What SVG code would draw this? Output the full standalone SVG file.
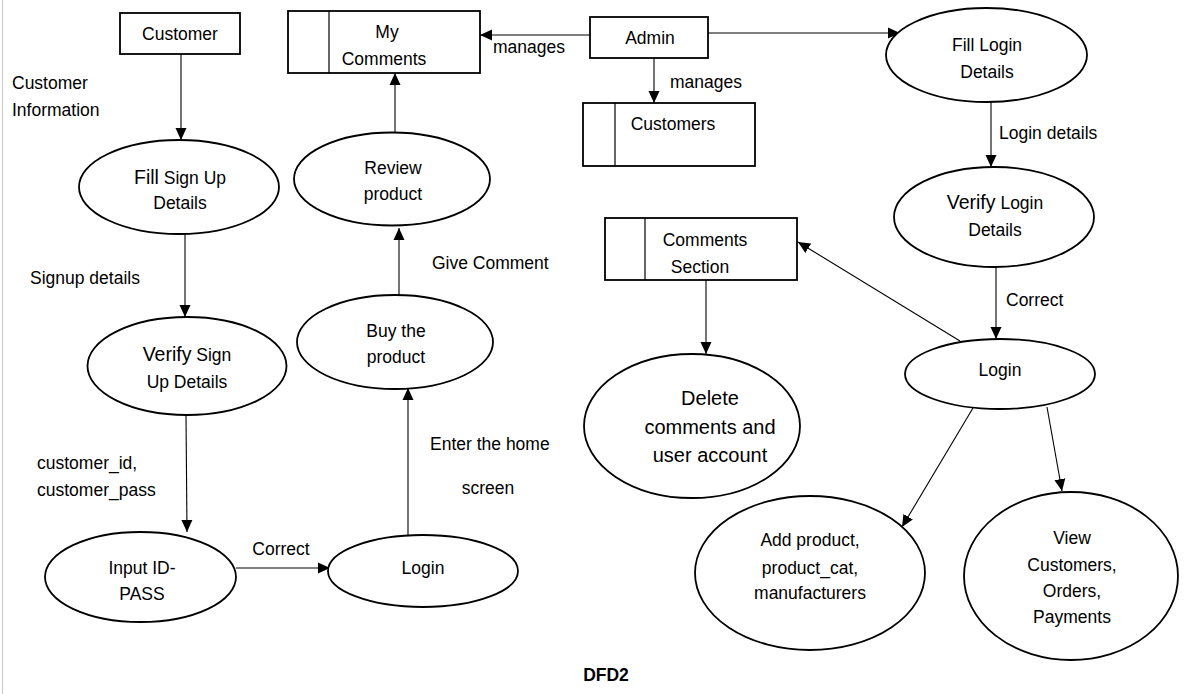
<svg xmlns="http://www.w3.org/2000/svg" width="1185" height="694" viewBox="0 0 1185 694">
<style>
text{font-family:"Liberation Sans",Arial,sans-serif;font-size:17.5px;fill:#000}
.c{text-anchor:middle}
.big{font-size:20px}
.bold{font-weight:bold}
.node rect,.node ellipse{fill:#fff;stroke:#000;stroke-width:1.8}
.node line{stroke:#000;stroke-width:1.2}
#connectors line{stroke:#000;stroke-width:1.1;fill:none}
</style>
<defs>
<marker id="ah" markerUnits="userSpaceOnUse" markerWidth="12" markerHeight="12" viewBox="0 0 12 12" refX="12" refY="6" orient="auto">
<path d="M0,0.5 L12,6 L0,11.5 z" fill="#000"/>
</marker>
</defs>
<rect x="0" y="0" width="1185" height="694" fill="#fff"/>
<line x1="2.5" y1="0" x2="2.5" y2="694" stroke="#c8c8c8" stroke-width="1"/>

<g id="connectors">
<line x1="181" y1="54" x2="181" y2="140" marker-end="url(#ah)"/>
<line x1="185" y1="234" x2="185" y2="317" marker-end="url(#ah)"/>
<line x1="186" y1="415" x2="187" y2="532" marker-end="url(#ah)"/>
<line x1="236" y1="568" x2="330" y2="568" marker-end="url(#ah)"/>
<line x1="408" y1="535" x2="408" y2="388" marker-end="url(#ah)"/>
<line x1="399" y1="295" x2="399" y2="228" marker-end="url(#ah)"/>
<line x1="395" y1="132" x2="395" y2="73" marker-end="url(#ah)"/>
<line x1="590" y1="35" x2="480" y2="35" marker-end="url(#ah)"/>
<line x1="654" y1="58" x2="654" y2="103" marker-end="url(#ah)"/>
<line x1="708" y1="33" x2="900" y2="33" marker-end="url(#ah)"/>
<line x1="991" y1="102" x2="991" y2="167" marker-end="url(#ah)"/>
<line x1="996" y1="267" x2="996" y2="339" marker-end="url(#ah)"/>
<line x1="960" y1="341" x2="798" y2="242" marker-end="url(#ah)"/>
<line x1="706" y1="280" x2="706" y2="354" marker-end="url(#ah)"/>
<line x1="973" y1="408" x2="902" y2="527" marker-end="url(#ah)"/>
<line x1="1047" y1="407" x2="1062" y2="491" marker-end="url(#ah)"/>
</g>

<g id="labels">
<text x="12" y="89">Customer</text>
<text x="12" y="116">Information</text>
<text x="30" y="284">Signup details</text>
<text x="37" y="469">customer_id,</text>
<text x="37" y="496">customer_pass</text>
<text x="281" y="555" class="c">Correct</text>
<text x="430" y="450">Enter the home</text>
<text x="488" y="494" class="c">screen</text>
<text x="432" y="269">Give Comment</text>
<text x="493" y="53">manages</text>
<text x="670" y="88">manages</text>
<text x="999" y="139">Login details</text>
<text x="1006" y="306">Correct</text>
<text x="606" y="681" class="c bold">DFD2</text>
</g>

<g id="customer" class="node">
<rect x="120" y="13" width="120" height="41"/>
<text x="180" y="40" class="c">Customer</text>
</g>

<g id="fill-signup" class="node">
<ellipse cx="179" cy="187" rx="100" ry="47"/>
<text x="180" y="184" class="c"><tspan font-size="19.5">Fill</tspan> Sign Up</text>
<text x="180" y="209" class="c">Details</text>
</g>

<g id="verify-signup" class="node">
<ellipse cx="187" cy="366" rx="99.5" ry="49"/>
<text x="187" y="361" class="c"><tspan font-size="19.5">Verify</tspan> Sign</text>
<text x="187" y="388" class="c">Up Details</text>
</g>

<g id="input-idpass" class="node">
<ellipse cx="140.5" cy="577" rx="95.5" ry="45"/>
<text x="142" y="574" class="c">Input ID-</text>
<text x="142" y="600" class="c">PASS</text>
</g>

<g id="login-customer" class="node">
<ellipse cx="423" cy="571" rx="95" ry="36"/>
<text x="423" y="574" class="c">Login</text>
</g>

<g id="buy-product" class="node">
<ellipse cx="395" cy="342" rx="98" ry="47"/>
<text x="396" y="337" class="c">Buy the</text>
<text x="396" y="363" class="c">product</text>
</g>

<g id="review-product" class="node">
<ellipse cx="392" cy="179" rx="98" ry="46.5"/>
<text x="393" y="174" class="c">Review</text>
<text x="393" y="200" class="c">product</text>
</g>

<g id="my-comments" class="node">
<rect x="288" y="11" width="192" height="62"/>
<line x1="329" y1="11" x2="329" y2="73"/>
<text x="387" y="38" class="c">My</text>
<text x="384" y="65" class="c">Comments</text>
</g>

<g id="admin" class="node">
<rect x="590" y="17" width="118" height="41"/>
<text x="650" y="44" class="c">Admin</text>
</g>

<g id="customers-store" class="node">
<rect x="583" y="103" width="172" height="63"/>
<line x1="615" y1="103" x2="615" y2="166"/>
<text x="673" y="130" class="c">Customers</text>
</g>

<g id="fill-login" class="node">
<ellipse cx="986.5" cy="55" rx="100.5" ry="47"/>
<text x="987" y="51" class="c">Fill Login</text>
<text x="987" y="78" class="c">Details</text>
</g>

<g id="verify-login" class="node">
<ellipse cx="994" cy="217" rx="100" ry="50"/>
<text x="995" y="209" class="c"><tspan font-size="19.5">Verify</tspan> Login</text>
<text x="995" y="236" class="c">Details</text>
</g>

<g id="comments-section" class="node">
<rect x="605" y="218" width="192" height="62"/>
<line x1="645" y1="218" x2="645" y2="280"/>
<text x="705" y="246" class="c">Comments</text>
<text x="700" y="273" class="c">Section</text>
</g>

<g id="login-admin" class="node">
<ellipse cx="1000" cy="374" rx="95" ry="35"/>
<text x="1000" y="376" class="c">Login</text>
</g>

<g id="delete-comments" class="node">
<ellipse cx="692" cy="426" rx="108" ry="72"/>
<text x="710" y="405" class="c big">Delete</text>
<text x="710" y="434" class="c big">comments and</text>
<text x="710" y="462" class="c big">user account</text>
</g>

<g id="add-product" class="node">
<ellipse cx="810" cy="573" rx="115" ry="77"/>
<text x="810" y="546" class="c">Add product,</text>
<text x="810" y="574" class="c">product_cat,</text>
<text x="810" y="599" class="c">manufacturers</text>
</g>

<g id="view-customers" class="node">
<ellipse cx="1071" cy="576" rx="107" ry="84"/>
<text x="1072" y="544" class="c">View</text>
<text x="1072" y="571" class="c">Customers,</text>
<text x="1072" y="597" class="c">Orders,</text>
<text x="1072" y="623" class="c">Payments</text>
</g>
</svg>
